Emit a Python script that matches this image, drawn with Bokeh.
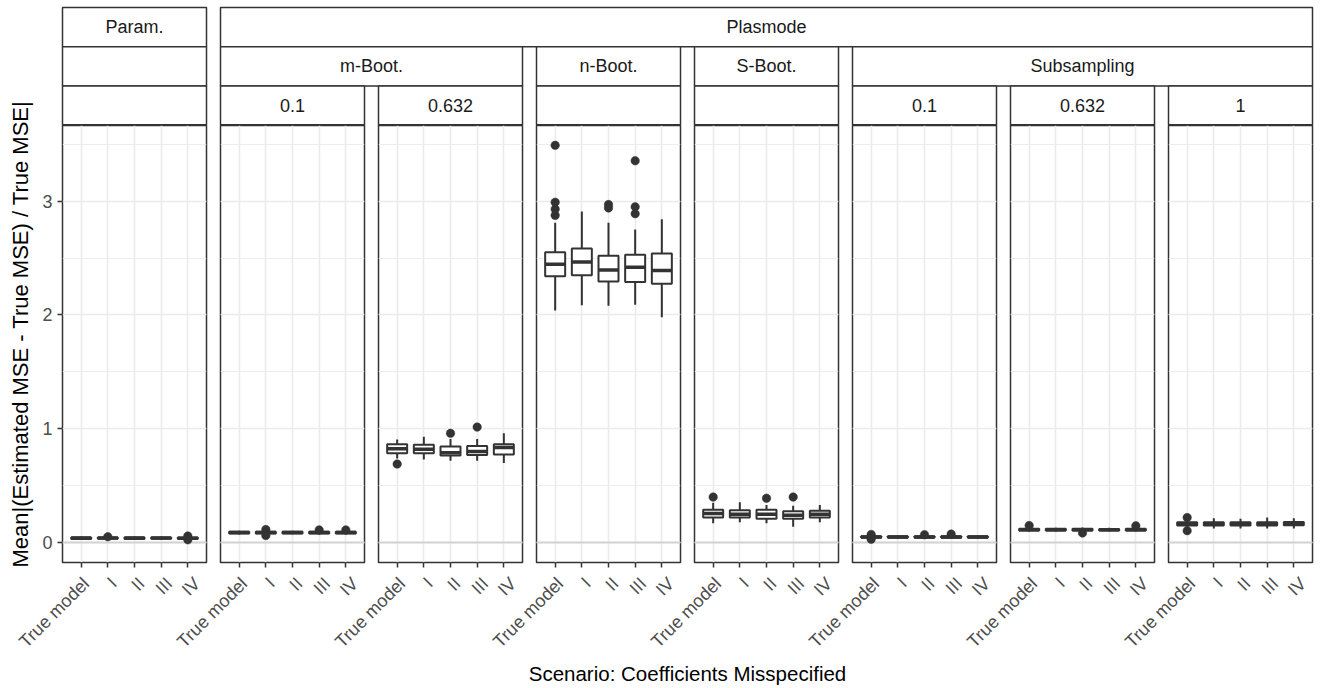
import numpy as np
from bokeh.plotting import figure
from bokeh.models import Range1d, FactorRange, SingleIntervalTicker, ColumnDataSource
from bokeh.layouts import column, row
from bokeh.embed import file_html
from bokeh.resources import INLINE
from bokeh.core.properties import value

# ---------------- data ----------------
categories = ["True model", "I", "II", "III", "IV"]

# Param.
param_lower = [0.025, 0.026, 0.025, 0.026, 0.028]
param_q1 = [0.033, 0.034, 0.033, 0.034, 0.033]
param_median = [0.040, 0.040, 0.040, 0.040, 0.039]
param_q3 = [0.046, 0.046, 0.046, 0.046, 0.046]
param_upper = [0.055, 0.055, 0.054, 0.055, 0.056]
param_out_cat = ["I", "IV", "IV"]
param_out_val = [0.052, 0.058, 0.025]

# Plasmode, m-Boot., 0.1
mb01_lower = [0.072, 0.072, 0.073, 0.072, 0.072]
mb01_q1 = [0.081, 0.081, 0.081, 0.081, 0.081]
mb01_median = [0.088, 0.088, 0.088, 0.088, 0.088]
mb01_q3 = [0.096, 0.096, 0.096, 0.096, 0.096]
mb01_upper = [0.104, 0.104, 0.104, 0.104, 0.104]
mb01_out_cat = ["I", "I", "III", "IV"]
mb01_out_val = [0.115, 0.062, 0.112, 0.112]

# Plasmode, m-Boot., 0.632
mb632_lower = [0.74, 0.73, 0.72, 0.72, 0.70]
mb632_q1 = [0.785, 0.785, 0.765, 0.770, 0.775]
mb632_median = [0.825, 0.820, 0.790, 0.800, 0.835]
mb632_q3 = [0.865, 0.860, 0.845, 0.850, 0.865]
mb632_upper = [0.905, 0.930, 0.910, 0.910, 0.960]
mb632_out_cat = ["True model", "II", "III"]
mb632_out_val = [0.690, 0.960, 1.015]

# Plasmode, n-Boot.
nb_lower = [2.04, 2.085, 2.08, 2.09, 1.98]
nb_q1 = [2.34, 2.35, 2.295, 2.29, 2.275]
nb_median = [2.445, 2.465, 2.395, 2.42, 2.39]
nb_q3 = [2.55, 2.585, 2.52, 2.53, 2.54]
nb_upper = [2.81, 2.91, 2.81, 2.75, 2.84]
nb_out_cat = ["True model", "True model", "True model", "True model",
              "II", "II", "III", "III", "III"]
nb_out_val = [3.49, 2.99, 2.93, 2.875, 2.97, 2.94, 3.355, 2.95, 2.89]

# Plasmode, S-Boot.
sb_lower = [0.17, 0.18, 0.17, 0.14, 0.18]
sb_q1 = [0.22, 0.22, 0.21, 0.21, 0.22]
sb_median = [0.255, 0.25, 0.25, 0.24, 0.25]
sb_q3 = [0.29, 0.285, 0.29, 0.275, 0.28]
sb_upper = [0.35, 0.355, 0.33, 0.325, 0.33]
sb_out_cat = ["True model", "II", "III"]
sb_out_val = [0.40, 0.39, 0.40]

# Plasmode, Subsampling, 0.1
ss01_lower = [0.035, 0.035, 0.035, 0.036, 0.035]
ss01_q1 = [0.044, 0.044, 0.044, 0.044, 0.044]
ss01_median = [0.050, 0.050, 0.050, 0.050, 0.050]
ss01_q3 = [0.056, 0.056, 0.056, 0.056, 0.056]
ss01_upper = [0.064, 0.063, 0.064, 0.064, 0.063]
ss01_out_cat = ["True model", "True model", "II", "III"]
ss01_out_val = [0.072, 0.030, 0.070, 0.075]

# Plasmode, Subsampling, 0.632
ss632_lower = [0.095, 0.098, 0.097, 0.098, 0.097]
ss632_q1 = [0.106, 0.106, 0.106, 0.106, 0.106]
ss632_median = [0.113, 0.113, 0.113, 0.113, 0.113]
ss632_q3 = [0.121, 0.121, 0.121, 0.120, 0.121]
ss632_upper = [0.133, 0.130, 0.132, 0.130, 0.132]
ss632_out_cat = ["True model", "II", "IV"]
ss632_out_val = [0.150, 0.085, 0.148]

# Plasmode, Subsampling, 1
ss1_lower = [0.125, 0.125, 0.125, 0.125, 0.125]
ss1_q1 = [0.150, 0.150, 0.150, 0.150, 0.152]
ss1_median = [0.163, 0.165, 0.165, 0.165, 0.166]
ss1_q3 = [0.180, 0.180, 0.180, 0.180, 0.181]
ss1_upper = [0.205, 0.215, 0.210, 0.220, 0.215]
ss1_out_cat = ["True model", "True model"]
ss1_out_val = [0.220, 0.105]

# strip labels: (label, first panel, last panel)
strip_row1 = [("Param.", 0, 0), ("Plasmode", 1, 7)]
strip_row2 = [("", 0, 0), ("m-Boot.", 1, 2), ("n-Boot.", 3, 3),
              ("S-Boot.", 4, 4), ("Subsampling", 5, 7)]
strip_row3 = [("", 0, 0), ("0.1", 1, 1), ("0.632", 2, 2), ("", 3, 3),
              ("", 4, 4), ("0.1", 5, 5), ("0.632", 6, 6), ("1", 7, 7)]

y_title = "Mean|(Estimated MSE - True MSE) / True MSE|"
x_title = "Scenario: Coefficients Misspecified"

panels = [
    (param_lower, param_q1, param_median, param_q3, param_upper, param_out_cat, param_out_val),
    (mb01_lower, mb01_q1, mb01_median, mb01_q3, mb01_upper, mb01_out_cat, mb01_out_val),
    (mb632_lower, mb632_q1, mb632_median, mb632_q3, mb632_upper, mb632_out_cat, mb632_out_val),
    (nb_lower, nb_q1, nb_median, nb_q3, nb_upper, nb_out_cat, nb_out_val),
    (sb_lower, sb_q1, sb_median, sb_q3, sb_upper, sb_out_cat, sb_out_val),
    (ss01_lower, ss01_q1, ss01_median, ss01_q3, ss01_upper, ss01_out_cat, ss01_out_val),
    (ss632_lower, ss632_q1, ss632_median, ss632_q3, ss632_upper, ss632_out_cat, ss632_out_val),
    (ss1_lower, ss1_q1, ss1_median, ss1_q3, ss1_upper, ss1_out_cat, ss1_out_val),
]

# ---------------- layout / style ----------------
W, H = 1321, 688
YT = 34            # width of the y-title column
LEFT = 62          # page x of the first panel's left edge
PW = 144           # panel frame width
GAP = 14
RP = 0.2           # categorical range padding (units)
STRIP_TOP = 7
STRIP_H = 39.3
STRIP_TOTAL = 125
FRAME_H = 437
TICK_AREA = 8
LABEL_H = 88
DARK = "#333333"
GRID = "#ebebeb"
FONT = "Liberation Sans"
TICK_SIZE = "18px"
STRIP_SIZE = "18px"
TITLE_SIZE = "20.5px"
YTITLE_SIZE = "22px"
LW = 2.0

all_vals = []
for p in panels:
    all_vals += p[0] + p[4] + p[6]
lo = min(0.0, min(all_vals))
hi = max(all_vals)
pad = 0.05 * (hi - lo)
y_range = Range1d(lo - pad, hi + pad)

n_panels = len(panels)
right_last = W - (LEFT + n_panels * PW + (n_panels - 1) * GAP)


def bare_figure(width, height, x0, x1, y0, y1):
    f = figure(width=width, height=height, x_range=Range1d(x0, x1), y_range=Range1d(y0, y1),
               output_backend="svg", toolbar_location=None,
               x_axis_location=None, y_axis_location=None,
               min_border=0, min_border_left=0, min_border_right=0,
               min_border_top=0, min_border_bottom=0)
    f.grid.visible = False
    f.outline_line_color = None
    f.background_fill_color = "white"
    f.border_fill_color = "white"
    return f


def make_panel(i, data):
    lower, q1, med, q3, upper, out_cat, out_val = data
    first = i == 0
    last = i == n_panels - 1
    bl = LEFT - YT if first else GAP // 2
    br = right_last if last else GAP // 2
    fig = figure(
        width=bl + PW + br, height=FRAME_H + TICK_AREA,
        x_range=FactorRange(*categories, range_padding=RP, range_padding_units="absolute"),
        y_range=y_range,
        output_backend="svg", toolbar_location=None,
        min_border_left=bl, min_border_right=br, min_border_top=0,
        min_border_bottom=TICK_AREA,
        y_axis_location="left" if first else None,
    )
    fig.background_fill_color = "white"
    fig.border_fill_color = "white"
    fig.outline_line_color = DARK
    fig.outline_line_width = 1.5
    fig.outline_line_alpha = 1.0

    fig.xgrid.grid_line_color = GRID
    fig.xgrid.grid_line_width = 1.6
    fig.ygrid.ticker = SingleIntervalTicker(interval=1, num_minor_ticks=2)
    fig.ygrid.grid_line_color = GRID
    fig.ygrid.grid_line_width = 1.6
    fig.ygrid.minor_grid_line_color = GRID
    fig.ygrid.minor_grid_line_width = 0.9

    xa = fig.xaxis[0]
    xa.axis_line_color = None
    xa.major_tick_line_color = DARK
    xa.major_tick_line_width = 1.5
    xa.major_tick_out = 5
    xa.major_tick_in = 0
    xa.minor_tick_line_color = None
    # tick labels are drawn (rotated, right-aligned) in the label strip below
    xa.major_label_overrides = {c: "" for c in categories}
    xa.major_label_text_font_size = "1px"
    xa.major_label_text_color = None
    xa.major_label_text_alpha = 0
    xa.major_label_standoff = 0

    if first:
        ya = fig.yaxis[0]
        ya.ticker = SingleIntervalTicker(interval=1, num_minor_ticks=2)
        ya.axis_line_color = None
        ya.major_tick_line_color = DARK
        ya.major_tick_line_width = 1.5
        ya.major_tick_out = 5
        ya.major_tick_in = 0
        ya.minor_tick_line_color = None
        ya.major_label_text_font = FONT
        ya.major_label_text_font_size = TICK_SIZE
        ya.major_label_text_color = "#4d4d4d"
        ya.major_label_standoff = 5

    fig.hspan(y=[0], line_color="#d3d3d3", line_width=2)

    src = ColumnDataSource(dict(x=categories, lower=lower, q1=q1, med=med, q3=q3, upper=upper))
    fig.segment(x0="x", y0="q3", x1="x", y1="upper", source=src, line_color=DARK, line_width=LW)
    fig.segment(x0="x", y0="lower", x1="x", y1="q1", source=src, line_color=DARK, line_width=LW)
    fig.vbar(x="x", width=0.75, bottom="q1", top="q3", source=src,
             fill_color="white", line_color=DARK, line_width=LW)
    fig.rect(x="x", y="med", width=0.75, height=3.5, height_units="screen", source=src,
             fill_color=DARK, line_color=None)
    if out_cat:
        fig.scatter(x=out_cat, y=out_val, size=8.5, marker="circle",
                    fill_color=DARK, line_color=DARK, line_width=0.5)
    return fig


panel_figs = [make_panel(i, d) for i, d in enumerate(panels)]

# ---------------- strips ----------------
strip = bare_figure(W - YT, STRIP_TOTAL, YT, W, STRIP_TOTAL, 0)
sl, sr, st, sb, sx, sy, stxt = [], [], [], [], [], [], []
for r, rowdef in enumerate([strip_row1, strip_row2, strip_row3]):
    top = STRIP_TOP + r * STRIP_H
    bot = top + STRIP_H if r < 2 else STRIP_TOTAL - 0.75
    for label, a, b in rowdef:
        left = LEFT + a * (PW + GAP)
        right = LEFT + b * (PW + GAP) + PW
        sl.append(left); sr.append(right); st.append(top); sb.append(bot)
        if label:
            sx.append((left + right) / 2); sy.append((top + bot) / 2); stxt.append(label)

strip.quad(left=sl, right=sr, top=st, bottom=sb, fill_color="white",
           line_color=DARK, line_width=1.5)
strip.text(x=sx, y=sy, text=stxt, text_align="center", text_baseline="middle",
           text_font=value(FONT), text_font_size=STRIP_SIZE, text_color="#1a1a1a")

# ---------------- y title ----------------
TOP_H = STRIP_TOTAL + FRAME_H + TICK_AREA
yt = bare_figure(YT, TOP_H, 0, YT, TOP_H, 0)
yt.text(x=[20], y=[STRIP_TOTAL + FRAME_H / 2 - 10], text=[y_title], angle=np.pi / 2,
        text_align="center", text_baseline="middle", text_font=value(FONT),
        text_font_size=YTITLE_SIZE, text_color="black")

# ---------------- rotated x tick labels ----------------
labfig = bare_figure(W, LABEL_H, 0, W, LABEL_H, 0)
unit = PW / (len(categories) + RP)
lx, ltxt = [], []
for k in range(n_panels):
    for j, c in enumerate(categories):
        lx.append(LEFT + k * (PW + GAP) + (j + 0.5 + RP / 2) * unit)
        ltxt.append(c)
labfig.text(x=lx, y=[3] * len(lx), text=ltxt, angle=np.pi / 4,
            text_align="right", text_baseline="top", text_font=value(FONT),
            text_font_size=TICK_SIZE, text_color="#4d4d4d")

# ---------------- x title ----------------
TH = H - TOP_H - LABEL_H
xt = bare_figure(W, TH, 0, W, TH, 0)
panels_center = LEFT + (n_panels * PW + (n_panels - 1) * GAP) / 2
xt.text(x=[panels_center], y=[673 - TOP_H - LABEL_H], text=[x_title], text_align="center",
        text_baseline="middle", text_font=value(FONT), text_font_size=TITLE_SIZE,
        text_color="black")

top_block = row(yt, column(strip, row(*panel_figs, spacing=0), spacing=0), spacing=0)
layout = column(top_block, labfig, xt, spacing=0)

open("out.html", "w").write(file_html(layout, INLINE))
